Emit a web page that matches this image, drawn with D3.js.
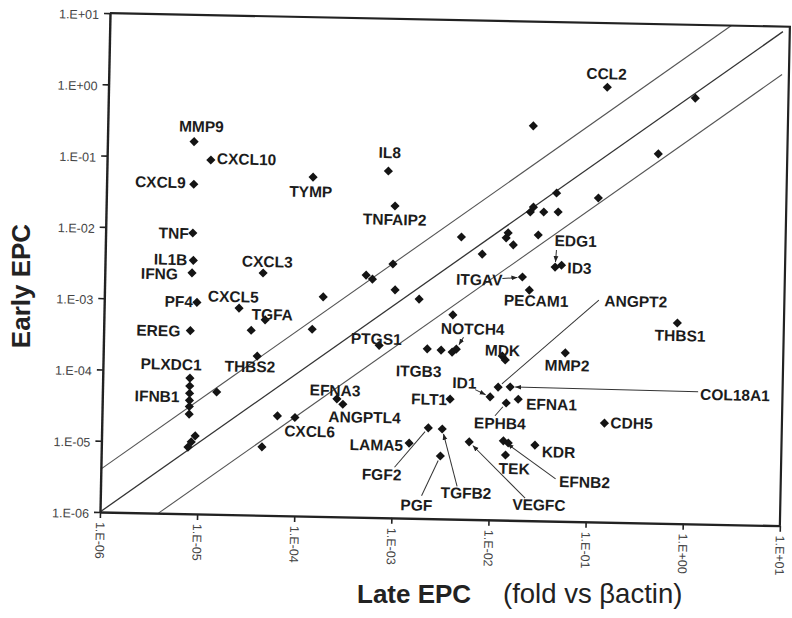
<!DOCTYPE html>
<html>
<head>
<meta charset="utf-8">
<script src="https://cdn.jsdelivr.net/npm/d3@7"></script>
<style>
  body { margin: 0; background: #fff; }
  text { font-family: "Liberation Sans", Arial, sans-serif; }
</style>
</head>
<body>
<svg id="chart" width="792" height="618"></svg>
<script>
// ---- data (fold vs beta-actin) ----
var gene = ["MMP9","CXCL10","CXCL9","TNF","IL1B","IFNG","PF4","EREG",
  "PLXDC1","","IFNB1","","","",
  "","","",
  "CXCL3","CXCL5","TGFA","","THBS2","","","","","","","","","PTGS1","",
  "EFNA3","ANGPTL4","","CXCL6","","LAMA5","FLT1",
  "ITGB3","","NOTCH4","","MDK","","MMP2","THBS1",
  "ANGPT2","COL18A1","ID1","EFNA1","EPHB4","CDH5","KDR","EFNB2","","TEK",
  "FGF2","TGFB2","PGF","VEGFC",
  "ITGAV","PECAM1","EDG1","ID3",
  "","","","","","","","","","","","","","","CCL2","",
  "TYMP","IL8","TNFAIP2"];
var lateEPC = [7.8e-6,1.17e-5,7.9e-6,7.9e-6,8.1e-6,7.9e-6,9.0e-6,7.8e-6,
  7.9e-6,7.9e-6,7.9e-6,7.9e-6,7.9e-6,7.9e-6,
  7.8e-6,8.4e-6,9.2e-6,
  4.26e-5,2.45e-5,4.57e-5,3.3e-5,3.85e-5,1.5e-5,1.79e-4,4.9e-4,5.7e-4,9.2e-4,9.8e-4,1.74e-3,1.4e-4,6.9e-4,2.16e-3,
  2.6e-4,3.0e-4,6.4e-5,9.7e-5,4.5e-5,1.47e-3,3.8e-3,
  3.0e-3,3.9e-3,4.3e-3,3.9e-3,1.38e-2,1.28e-2,5.7e-2,0.80,
  1.18e-2,1.57e-2,9.8e-3,1.91e-2,1.44e-2,0.149,2.9e-2,1.37e-2,1.54e-2,1.45e-2,
  2.3e-3,3.2e-3,3.1e-3,6.1e-3,
  1.99e-2,2.36e-2,4.3e-2,5.0e-2,
  4.6e-3,7.6e-3,1.39e-2,1.33e-2,1.58e-2,2.33e-2,2.5e-2,3.2e-2,4.5e-2,4.3e-2,2.84e-2,0.116,0.47,2.4e-2,0.136,1.10,
  1.33e-4,7.9e-4,9.4e-4];
var earlyEPC = [0.166,9.3e-2,4.2e-2,8.7e-3,3.6e-3,2.4e-3,9.3e-4,3.7e-4,
  8.0e-5,6.2e-5,4.9e-5,3.9e-5,3.2e-5,2.5e-5,
  8.6e-6,1.02e-5,1.24e-5,
  2.5e-3,7.9e-4,5.5e-4,3.9e-4,1.7e-4,5.2e-5,1.2e-3,2.5e-3,2.2e-3,3.64e-3,1.58e-3,1.19e-3,4.2e-4,2.6e-4,2.4e-4,
  4.5e-5,3.8e-5,2.5e-5,2.4e-5,9.1e-6,1.13e-5,4.8e-5,
  2.33e-4,2.2e-4,2.43e-4,7.3e-4,1.76e-4,2.0e-4,2.3e-4,6.5e-4,
  7.3e-5,7.4e-5,5.3e-5,5.0e-5,4.4e-5,2.45e-5,1.15e-5,1.29e-5,1.21e-5,8.2e-6,
  1.87e-5,1.82e-5,7.6e-6,1.22e-5,
  2.6e-3,1.71e-3,3.66e-3,3.9e-3,
  9.1e-3,5.3e-3,1.07e-2,9.1e-3,7.3e-3,2.13e-2,2.5e-2,2.15e-2,2.17e-2,4.0e-2,1.02e-2,3.5e-2,0.151,0.344,1.26,0.94,
  5.7e-2,7.3e-2,2.37e-2];

var tickValues = [1e-6,1e-5,1e-4,1e-3,1e-2,1e-1,1,10];
var tickLabels = ["1.E-06","1.E-05","1.E-04","1.E-03","1.E-02","1.E-01","1.E+00","1.E+01"];
var diagFactors = [1, 4, 0.25];
var diagEnd = 8.5;

// label offsets (px from the point) and anchor
var labelPos = {
  MMP9:[7,-10,"middle"], CXCL10:[6,4,"start"], CXCL9:[-8,4,"end"], TNF:[-4,6,"end"],
  IL1B:[-6,5,"end"], IFNG:[-14,7,"end"], PF4:[-4,5,"end"], EREG:[-10,6,"end"],
  PLXDC1:[-19,-8,"middle"], IFNB1:[-10,9,"end"], CXCL3:[4,-6,"middle"], CXCL5:[-6,-6,"middle"],
  TGFA:[7,0,"middle"], THBS2:[-7,16,"middle"], PTGS1:[-3,-1,"middle"], EFNA3:[-2,-3,"middle"],
  ANGPTL4:[22,18,"middle"], CXCL6:[15,19,"middle"], LAMA5:[-6,8,"end"], FLT1:[-3,6,"end"],
  FGF2:[-26,53,"end"], PGF:[-23,55,"middle"], TGFB2:[25,69,"middle"], VEGFC:[71,67,"middle"],
  TEK:[9,19,"middle"], KDR:[7,12,"start"], EFNB2:[82,45,"middle"], EPHB4:[-6,26,"middle"],
  EFNA1:[8,10,"start"], ID1:[-26,-8,"middle"], COL18A1:[190,9,"start"], ANGPT2:[136,-83,"middle"],
  CDH5:[6,5,"start"], MMP2:[2,18,"middle"], THBS1:[3,18,"middle"], MDK:[-3,-4,"middle"],
  NOTCH4:[16,-15,"middle"], ITGB3:[-22,27,"middle"], ITGAV:[-20,9,"end"], PECAM1:[7,16,"middle"],
  EDG1:[20,-21,"middle"], ID3:[6,8,"start"], CCL2:[-1,-8,"middle"], IL8:[1,-13,"middle"],
  TYMP:[-2,20,"middle"], TNFAIP2:[0,19,"middle"]
};
// leader line start (px from the point), 1 = arrow head
var leaderFrom = {
  ANGPT2:[99,-89,0], COL18A1:[188,1,1], ID1:[-15,-7,1], EPHB4:[-11,13,0],
  FGF2:[-33,40,0], PGF:[-18,40,0], TGFB2:[16,57,1], VEGFC:[57,55,1],
  EFNB2:[53,37,1], EDG1:[1,-17,1], ITGAV:[-20,2,1], NOTCH4:[7,-12,1]
};

var W = 680, H = 499;
var svg = d3.select("#chart");

svg.append("defs").append("marker")
  .attr("id", "arr").attr("viewBox", "0 0 10 10")
  .attr("refX", 10).attr("refY", 5)
  .attr("markerWidth", 6).attr("markerHeight", 6)
  .attr("orient", "auto")
  .append("path").attr("d", "M0,1L10,5L0,9z").attr("fill", "#222");

var x = d3.scaleLog().domain([1e-6, 10]).range([0, W]);
var y = d3.scaleLog().domain([1e-6, 10]).range([H, 0]);

// scanned figure is tilted a little
var g = svg.append("g")
  .attr("transform", "translate(100,512) rotate(1.15) translate(0," + (-H) + ")");

// diagonal reference lines
diagFactors.forEach(function(f){
  var x0 = Math.max(1e-6, 1e-6 / f), x1 = Math.min(diagEnd, 10 / f);
  g.append("line")
    .attr("x1", x(x0)).attr("y1", y(x0 * f))
    .attr("x2", x(x1)).attr("y2", y(x1 * f))
    .attr("stroke", f == 1 ? "#333" : "#555")
    .attr("stroke-width", f == 1 ? 1.3 : 1.1);
});

// frame top/right
g.append("path")
  .attr("d", "M0,0H" + W + "V" + H)
  .attr("fill", "none").attr("stroke", "#222").attr("stroke-width", 2.2);

var xAxis = d3.axisBottom(x).tickValues(tickValues)
  .tickFormat(function(d, i){ return tickLabels[i]; })
  .tickSize(6).tickSizeOuter(0);
var yAxis = d3.axisLeft(y).tickValues(tickValues)
  .tickFormat(function(d, i){ return tickLabels[i]; })
  .tickSize(6).tickSizeOuter(0);

var gx = g.append("g").attr("transform", "translate(0," + H + ")").call(xAxis);
gx.selectAll("text")
  .attr("transform", "rotate(90)")
  .attr("x", 10).attr("y", 0).attr("dy", "0.35em")
  .style("text-anchor", "start");
var gy = g.append("g").call(yAxis);
gy.selectAll("text").attr("x", -11).attr("dy", "0.45em");

g.selectAll(".domain").attr("stroke", "#222").attr("stroke-width", 2.4);
g.selectAll(".tick line").attr("stroke", "#222").attr("stroke-width", 1.6);
g.selectAll(".tick text").attr("fill", "#444").style("font-size", "12.5px");

// leader lines
var idx = {};
gene.forEach(function(n, i){ if (n) idx[n] = i; });

Object.keys(leaderFrom).forEach(function(n){
  var i = idx[n], L = leaderFrom[n];
  var px = x(lateEPC[i]), py = y(earlyEPC[i]);
  var sx = px + L[0], sy = py + L[1];
  var len = Math.hypot(L[0], L[1]), gap = 5;
  g.append("line")
    .attr("x1", sx).attr("y1", sy)
    .attr("x2", px + L[0] * gap / len).attr("y2", py + L[1] * gap / len)
    .attr("stroke", "#333").attr("stroke-width", 1)
    .attr("marker-end", L[2] ? "url(#arr)" : null);
});

// points
var diamond = d3.symbol().type(d3.symbolSquare).size(42);
g.selectAll(".pt")
  .data(lateEPC)
  .join("path")
  .attr("class", "pt")
  .attr("d", diamond)
  .attr("transform", function(d, i){
    return "translate(" + x(d) + "," + y(earlyEPC[i]) + ") rotate(45)";
  })
  .attr("fill", "#141414");

// gene labels
g.selectAll(".lbl")
  .data(gene.map(function(n, i){ return i; }).filter(function(i){ return labelPos[gene[i]]; }))
  .join("text")
  .attr("class", "lbl")
  .attr("x", function(i){ return x(lateEPC[i]) + labelPos[gene[i]][0]; })
  .attr("y", function(i){ return y(earlyEPC[i]) + labelPos[gene[i]][1]; })
  .attr("text-anchor", function(i){ return labelPos[gene[i]][2]; })
  .style("font-weight", "bold").style("font-size", "15.5px")
  .attr("fill", "#1c1c1c")
  .text(function(i){ return gene[i]; });

// axis titles
svg.append("text")
  .attr("transform", "translate(30,286) rotate(-90)")
  .attr("text-anchor", "middle")
  .style("font-weight", "bold").style("font-size", "26px")
  .attr("fill", "#222")
  .text("Early EPC");
svg.append("text")
  .attr("x", 357).attr("y", 603)
  .style("font-weight", "bold").style("font-size", "26px")
  .attr("fill", "#222")
  .text("Late EPC");
svg.append("text")
  .attr("x", 503).attr("y", 603)
  .style("font-size", "27.5px")
  .attr("fill", "#222")
  .text("(fold vs βactin)");
</script>
</body>
</html>
